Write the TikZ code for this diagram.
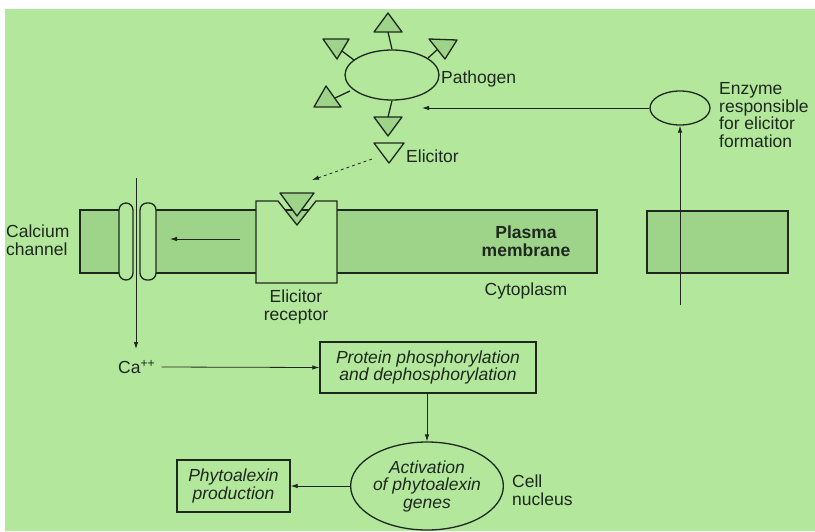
\documentclass[tikz,border=0pt]{standalone}
\usepackage{fontspec}
\setmainfont{Liberation Sans}
\usetikzlibrary{arrows.meta,shapes.geometric}
\definecolor{bg}{RGB}{179,232,156}
\definecolor{mem}{RGB}{158,212,138}
\definecolor{ink}{RGB}{30,40,30}
\begin{document}
\begin{tikzpicture}[x=1pt,y=-1pt,
  shapeline/.style={draw=ink,line width=1.3pt},
  conn/.style={draw=ink,line width=0.8pt},
  arr/.style={conn,-{Latex[length=7pt,width=4.5pt]}},
  lbl/.style={font=\fontsize{17.5}{17.5}\selectfont,text=ink,inner sep=0pt,align=center},
  ilbl/.style={font=\fontsize{17.5}{17.5}\itshape\selectfont,text=ink,inner sep=0pt,align=center},
  tri/.style={shapeline,fill=mem,line join=round},
  chan/.style={shapeline,fill=bg,rounded corners=7pt},
  block/.style={shapeline,fill=mem}]
% frame
\useasboundingbox (0,0) rectangle (815,531);
\fill[white] (0,0) rectangle (815,531);
\fill[bg] (5,9) rectangle (815,531);

% pathogen
\node[shapeline,ellipse,minimum width=94pt,minimum height=50pt,inner sep=0pt] (path) at (392,75) {};
\node[lbl,anchor=west] (pathlbl) at (441,79) {Pathogen};
% stems
\draw[shapeline] (path.north) -- (388,32);
\draw[shapeline] (path.south) -- (388,117);
\draw[shapeline] (354,60) -- (342,51);
\draw[shapeline] (428,58) -- (438,49);
\draw[shapeline] (350,91) -- (335,98);
% triangles
\draw[tri] (388,13) -- (402,32) -- (374,32) -- cycle;
\draw[tri] (374,117) -- (402,117) -- (388,136) -- cycle;
\draw[tri] (323,39) -- (349,39) -- (337,59) -- cycle;
\draw[tri] (429,39) -- (457,40) -- (445,59) -- cycle;
\draw[tri] (326,86) -- (341,107) -- (314,107) -- cycle;
% elicitor
\draw[shapeline,line join=round] (374,143) -- (404,143) -- (389,163) -- cycle;
\coordinate (elic) at (372,159);
\node[lbl,anchor=west] (eliclbl) at (406,156) {Elicitor};

% enzyme
\node[shapeline,ellipse,minimum width=60pt,minimum height=34pt,inner sep=0pt] (enz) at (680,108) {};
\node[lbl,anchor=west,align=left] (enzlbl) at (719,115) {Enzyme\\responsible\\for elicitor\\formation};
\coordinate (enzin) at (422,108);
\draw[arr] (enz.west) -- (enzin);

% membrane
\draw[block] (80,210) rectangle (122,273);
\draw[block] (150,210) rectangle (597,273);
\draw[block] (647,211) rectangle (788,273);
\draw[chan] (119,203) rectangle (133,280);
\draw[chan] (140,203) rectangle (156,280);
% receptor
\draw[shapeline,fill=bg,line join=miter] (256,201) -- (278,201) -- (297,225) -- (316,201) -- (337,201) -- (337,283) -- (256,283) -- cycle;
\draw[tri] (280,193) -- (314,193) -- (297,216) -- cycle;
\coordinate (rec) at (312,180);
\draw[conn,dashed,-{Latex[length=7pt,width=4.5pt]}] (elic) -- (rec);

% inner arrow
\coordinate (ina) at (240,239);
\coordinate (inb) at (170,239);
\draw[arr] (ina) -- (inb);

\node[lbl] (calc) at (6,240) [anchor=west,align=left] {Calcium\\channel};
\node[lbl,font=\fontsize{17.5}{17.5}\bfseries\selectfont] (plasma) at (526,241) {Plasma\\membrane};
\node[lbl] (cyto) at (526,291) {Cytoplasm};
\node[lbl] (reclbl) at (296,307) {Elicitor\\receptor};

% enzyme vertical line
\coordinate (enzbot) at (680,305);
\draw[arr] (enzbot) -- (enz.south);

% calcium
\node[lbl,anchor=west] (ca) at (118,367) {Ca\textsuperscript{++}};
\coordinate (chtop) at (136,178);
\draw[arr] (chtop) -- (chtop |- 0,349);
\node[ilbl,shapeline,rectangle,minimum width=216pt,minimum height=51pt] (prot) at (428,367.5) {Protein phosphorylation\\and dephosphorylation};
\draw[arr] ([xshift=6pt]ca.east) -- (prot.west);

% nucleus
\node[ilbl,shapeline,ellipse,minimum width=141pt,minimum height=88pt] (nuc) at (427,486) {Activation\\of phytoalexin\\genes};
\draw[arr] (prot.south -| nuc.north) -- (nuc.north);
\node[lbl,anchor=west,align=left] (cell) at (512,490) {Cell\\nucleus};

\node[ilbl,shapeline,rectangle,minimum width=113pt,minimum height=52pt] (phyto) at (233.5,486) {Phytoalexin\\production};
\draw[arr] (nuc.west) -- (phyto.east);
\end{tikzpicture}
\end{document}
